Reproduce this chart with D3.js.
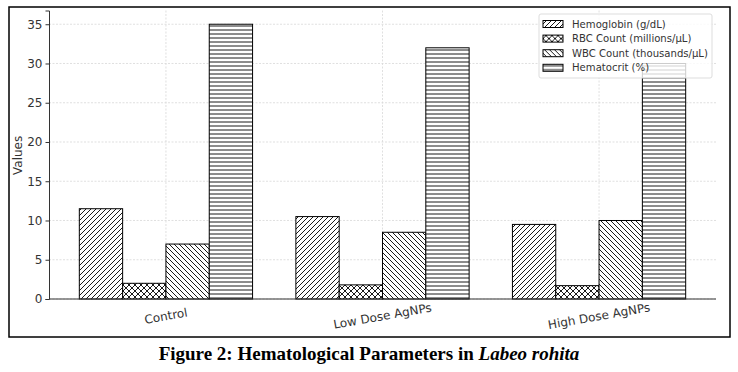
<!DOCTYPE html>
<html>
<head>
<meta charset="utf-8">
<script src="https://cdn.jsdelivr.net/npm/d3@7"></script>
<style>
  body { margin: 0; background: #fff; }
  svg { display: block; }
</style>
</head>
<body>
<svg width="738" height="372"></svg>
<script>
var categories = ['Control', 'Low Dose AgNPs', 'High Dose AgNPs'];
var seriesNames = ['Hemoglobin (g/dL)', 'RBC Count (millions/\u03bcL)', 'WBC Count (thousands/\u03bcL)', 'Hematocrit (%)'];
var hemoglobin = [11.5, 10.5, 9.5];
var rbc = [2.0, 1.8, 1.7];
var wbc = [7.0, 8.5, 10.0];
var hematocrit = [35, 32, 30];
var yTicks = [0, 5, 10, 15, 20, 25, 30, 35];
var series = [hemoglobin, rbc, wbc, hematocrit];
var hatches = ['fwd', 'cross', 'back', 'horiz'];

var svg = d3.select('svg');
var barWidth = 0.2;

var x = d3.scaleLinear().domain([-0.54, 2.54]).range([49, 716]);
var y = d3.scaleLinear().domain([0, 36.75]).range([299, 10.5]);

// hatch patterns, like matplotlib's '//' 'xx' '\\' '--'
var defs = svg.append('defs');
function pattern(id, size, draw) {
  var p = defs.append('pattern')
    .attr('id', id)
    .attr('patternUnits', 'userSpaceOnUse')
    .attr('width', size)
    .attr('height', size);
  p.append('rect').attr('width', size).attr('height', size).attr('fill', '#fff');
  draw(p, size);
}
function line(p, x1, y1, x2, y2) {
  p.append('line')
    .attr('x1', x1).attr('y1', y1).attr('x2', x2).attr('y2', y2)
    .attr('stroke', '#000').attr('stroke-width', 0.9);
}
pattern('fwd', 5, function(p, s) {
  line(p, 0, s, s, 0);
  line(p, -1, 1, 1, -1);
  line(p, s - 1, s + 1, s + 1, s - 1);
});
pattern('back', 5, function(p, s) {
  line(p, 0, 0, s, s);
  line(p, -1, s - 1, 1, s + 1);
  line(p, s - 1, -1, s + 1, 1);
});
pattern('cross', 6, function(p, s) {
  line(p, 0, s, s, 0);
  line(p, 0, 0, s, s);
});
pattern('horiz', 4, function(p, s) {
  line(p, 0, 2, s, 2);
});

// grid
var grid = svg.append('g');
grid.selectAll('.hg')
  .data(yTicks)
  .enter()
  .append('line')
  .attr('x1', 49).attr('x2', 716)
  .attr('y1', function(d) { return y(d); })
  .attr('y2', function(d) { return y(d); })
  .attr('stroke', '#d8d8d8')
  .attr('stroke-width', 0.8)
  .attr('stroke-dasharray', '2,1.5');
grid.selectAll('.vg')
  .data(categories)
  .enter()
  .append('line')
  .attr('x1', function(d, i) { return x(i); })
  .attr('x2', function(d, i) { return x(i); })
  .attr('y1', 10.5).attr('y2', 299)
  .attr('stroke', '#d8d8d8')
  .attr('stroke-width', 0.8)
  .attr('stroke-dasharray', '2,1.5');

// bars
series.forEach(function(vals, s) {
  var offset = (s - 1.5) * barWidth;
  svg.append('g')
    .selectAll('rect')
    .data(vals)
    .enter()
    .append('rect')
    .attr('x', function(d, i) { return x(i + offset - barWidth / 2); })
    .attr('width', x(barWidth) - x(0))
    .attr('y', function(d) { return y(d); })
    .attr('height', function(d) { return y(0) - y(d); })
    .attr('fill', 'url(#' + hatches[s] + ')')
    .attr('stroke', '#000')
    .attr('stroke-width', 1);
});

// axes
var yAxis = svg.append('g')
  .attr('transform', 'translate(49,0)')
  .call(d3.axisLeft(y).tickValues(yTicks).tickSize(3.5).tickPadding(3));
var xAxis = svg.append('g')
  .attr('transform', 'translate(0,299)')
  .call(d3.axisBottom(x).tickValues([0, 1, 2]).tickSize(0).tickFormat(''));
[yAxis, xAxis].forEach(function(a) {
  a.select('.domain').attr('stroke', '#333').attr('stroke-width', 1);
  a.selectAll('.tick line').attr('stroke', '#333');
  a.selectAll('text')
    .attr('font-family', 'DejaVu Sans')
    .attr('font-size', 12)
    .attr('fill', '#333');
});
xAxis.select('.domain').attr('d', 'M49,0H716');

svg.append('g')
  .selectAll('text')
  .data(categories)
  .enter()
  .append('text')
  .attr('transform', function(d, i) { return 'translate(' + x(i) + ',316) rotate(-10)'; })
  .attr('text-anchor', 'middle')
  .attr('dy', '0.35em')
  .attr('font-family', 'DejaVu Sans')
  .attr('font-size', 12)
  .attr('fill', '#333')
  .text(function(d) { return d; });

svg.append('text')
  .attr('transform', 'translate(22,' + y(18.3) + ') rotate(-90)')
  .attr('text-anchor', 'middle')
  .attr('font-family', 'DejaVu Sans')
  .attr('font-size', 12)
  .attr('fill', '#333')
  .text('Values');

// legend
var legend = svg.append('g').attr('transform', 'translate(539,14)');
legend.append('rect')
  .attr('width', 173).attr('height', 64)
  .attr('rx', 2)
  .attr('fill', '#fff').attr('fill-opacity', 0.8)
  .attr('stroke', '#ddd');
var item = legend.selectAll('.item')
  .data(seriesNames)
  .enter()
  .append('g')
  .attr('transform', function(d, i) { return 'translate(4,' + (10 + i * 14.6) + ')'; });
item.append('rect')
  .attr('x', 0).attr('y', -3.5)
  .attr('width', 20).attr('height', 7)
  .attr('fill', function(d, i) { return 'url(#' + hatches[i] + ')'; })
  .attr('stroke', '#000');
item.append('text')
  .attr('x', 29)
  .attr('dy', '0.35em')
  .attr('font-family', 'DejaVu Sans')
  .attr('font-size', 10.1)
  .attr('fill', '#333')
  .text(function(d) { return d; });

// outer frame and caption
svg.append('rect')
  .attr('x', 9).attr('y', 7)
  .attr('width', 721).attr('height', 330)
  .attr('fill', 'none')
  .attr('stroke', '#000')
  .attr('stroke-width', 1.5);

var caption = svg.append('text')
  .attr('x', 369).attr('y', 360)
  .attr('text-anchor', 'middle')
  .attr('font-family', 'Liberation Serif')
  .attr('font-weight', 'bold')
  .attr('font-size', 19)
  .attr('fill', '#000');
caption.append('tspan').text('Figure 2: Hematological Parameters in ');
caption.append('tspan').attr('font-style', 'italic').text('Labeo rohita');
</script>
</body>
</html>
